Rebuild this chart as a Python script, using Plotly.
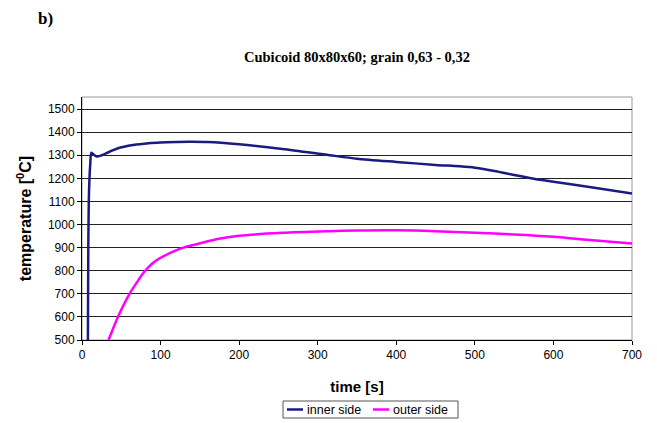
import plotly.graph_objects as go

# Data
time_inner = [7.5, 8.0, 9.0, 10.5, 12.0, 15.0, 19.0, 25, 35, 45, 65, 85, 100, 120, 135, 160, 200, 255, 315, 350, 400, 450, 480, 500, 525, 550, 575, 600, 650, 700]
temp_inner = [500, 900, 1150, 1260, 1311, 1302, 1294, 1300, 1315, 1329, 1344, 1352, 1355, 1357, 1358, 1357, 1347, 1327, 1300, 1285, 1271, 1258, 1252, 1246, 1232, 1214, 1198, 1185, 1160, 1134]

time_outer = [33.8, 45.7, 60.5, 70, 78, 85, 91, 103.5, 116, 129, 154, 176, 200, 255, 314, 350, 400, 450, 500, 550, 600, 650, 700]
temp_outer = [500, 600, 700, 750, 790, 817, 836, 862, 883, 900, 922, 939, 951, 964, 971, 974, 975, 971, 964, 957, 947, 932, 918]

x_ticks = [0, 100, 200, 300, 400, 500, 600, 700]
y_ticks = [500, 600, 700, 800, 900, 1000, 1100, 1200, 1300, 1400, 1500]

series_names = ["inner side", "outer side"]
series_colors = ["#1a1a80", "#ff00ff"]

# the page body adds an 8px offset; reference pixel coords below are converted
OFF = 8
W, H = 657 - OFF, 423 - OFF
L, R, T, B = 82 - OFF, 25, 97 - OFF, 83
PW, PH = W - L - R, H - T - B


def px(xr):  # reference pixel x -> paper x
    return (xr - 82) / PW


def py(yr):  # reference pixel y -> paper y
    return (340 - yr) / PH


fig = go.Figure()
for tx, ty, nm, col in [(time_inner, temp_inner, series_names[0], series_colors[0]),
                        (time_outer, temp_outer, series_names[1], series_colors[1])]:
    fig.add_trace(go.Scatter(x=tx, y=ty, mode="lines", name=nm, showlegend=False,
                             line=dict(color=col, width=2.5, shape="spline", smoothing=0.8)))

sans = "Liberation Sans, Arial, sans-serif"
axis_font = dict(family=sans, size=12, color="black")

shapes = [dict(type="rect", xref="paper", yref="paper", x0=0, y0=0, x1=1, y1=1,
               line=dict(color="#999999", width=1), layer="below")]
annotations = [
    dict(text="<b>b)</b>", xref="paper", yref="paper", x=px(45), y=py(8),
         xanchor="center", yanchor="top", showarrow=False, borderpad=0,
         font=dict(family="Liberation Serif, Times New Roman, serif", size=17, color="black")),
    dict(text="<b>Cubicoid 80x80x60; grain 0,63 - 0,32</b>", xref="paper", yref="paper",
         x=px(357), y=py(57), xanchor="center", yanchor="middle", showarrow=False,
         font=dict(family="Liberation Serif, Times New Roman, serif", size=14.5, color="black")),
]

# legend box (drawn manually to match the compact reference legend)
shapes.append(dict(type="rect", xref="paper", yref="paper", x0=px(283), x1=px(458), y0=py(418), y1=py(401),
                   line=dict(color="#555555", width=1), fillcolor="white"))
legend_line_x = [(287, 303), (373, 389)]
legend_text_x = [306, 392]
for i in range(2):
    shapes.append(dict(type="line", xref="paper", yref="paper", x0=px(legend_line_x[i][0]), x1=px(legend_line_x[i][1]),
                       y0=py(409.5), y1=py(409.5), line=dict(color=series_colors[i], width=2.5)))
    annotations.append(dict(text=series_names[i], xref="paper", yref="paper", x=px(legend_text_x[i]), y=py(409.5),
                            xanchor="left", yanchor="middle", showarrow=False, borderpad=0,
                            font=dict(family=sans, size=12.5, color="black")))

fig.update_layout(
    width=W, height=H,
    margin=dict(l=L, r=R, t=T, b=B, autoexpand=False),
    paper_bgcolor="white", plot_bgcolor="white",
    showlegend=False,
    xaxis=dict(range=[0, 700], tickvals=x_ticks, ticks="outside", ticklen=4, tickcolor="black",
               showline=True, linecolor="black", linewidth=1, showgrid=False, zeroline=False,
               tickfont=axis_font,
               title=dict(text="<b>time [s]</b>", font=dict(family=sans, size=15, color="black"), standoff=20)),
    yaxis=dict(range=[500, 1552], tickvals=y_ticks, ticks="outside", ticklen=4, tickcolor="black",
               showline=True, linecolor="black", linewidth=1, showgrid=True, gridcolor="#222222", gridwidth=1,
               zeroline=False, tickfont=axis_font,
               title=dict(text="<b>temperature [<sup>0</sup>C]</b>", font=dict(family=sans, size=16, color="black"), standoff=12)),
    shapes=shapes,
    annotations=annotations,
)

fig.write_html("out.html")
